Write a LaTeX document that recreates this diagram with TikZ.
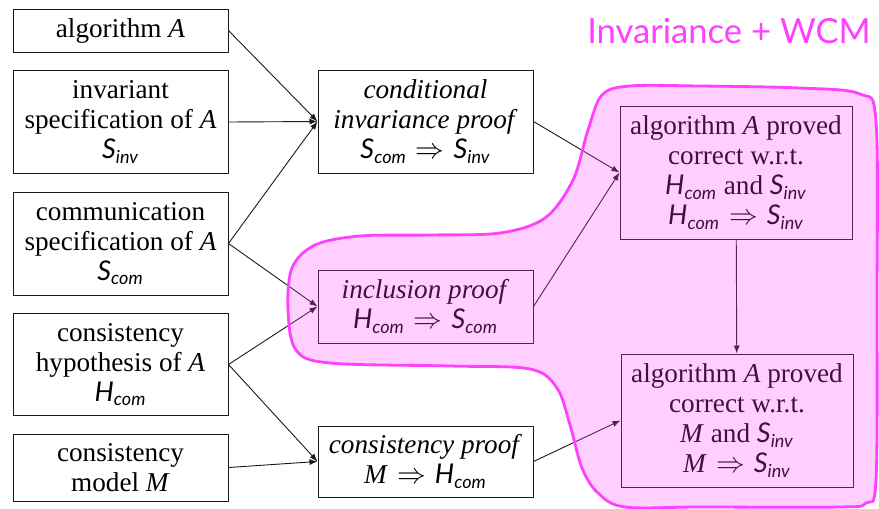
\documentclass[tikz,border=0pt]{standalone}
\usepackage{fontspec}
\setmainfont{Liberation Serif}
\newfontfamily\gillfont{Lato}
\usetikzlibrary{arrows.meta,positioning}
\definecolor{ink}{HTML}{1A1A1A}
\definecolor{blob}{HTML}{FF40FF}
\newcommand\specsym[2]{{\gillfont\itshape #1}$_{\hbox{\gillfont\itshape\fontsize{9}{9}\selectfont #2}}$}
\newcommand\impl{\hspace{4.5pt}$\Rightarrow$\hspace{4.5pt}}
\tikzset{
  basebox/.style={draw=ink,line width=0.5pt,fill=none,align=center,inner sep=2pt,font=\fontsize{13.6}{15}\selectfont},
  arrow/.style={-{Latex[length=4pt,width=3pt]},line width=0.45pt,draw=ink}
}

\begin{document}
\begin{tikzpicture}[x=0.5pt,y=-0.5pt,
    l/.style={basebox,minimum width=107.5pt,minimum height=51.5pt},
    m/.style={basebox,minimum width=107.5pt},
    r/.style={basebox,minimum width=116pt,minimum height=66.5pt}
  ]
    \useasboundingbox (0,0) rectangle (879,509);
    % inputs
    \node[l,minimum height=21.5pt] (alg) at (120.5,30.5) {algorithm \textit{A}};
    \node[l,below=8.75pt of alg] (inv) {invariant\\specification of \textit{A}\\\specsym{S}{inv}};
    \node[l,below=8.75pt of inv] (comm) {communication\\specification of \textit{A}\\\specsym{S}{com}};
    \node[l,minimum height=51pt,below=8.75pt of comm] (hyp) {consistency\\hypothesis of \textit{A}\\\specsym{H}{com}};
    \node[l,minimum height=33.5pt,below=8.75pt of hyp] (model) {consistency\\model \textit{M}};
    % proofs
    \node[m,minimum height=51.5pt] (cond) at (425.5,121.5) {\textit{conditional}\\\textit{invariance proof}\\\specsym{S}{com}\impl\specsym{S}{inv}};
    \node[m,minimum height=36.5pt] (incl) at (425.5,306.5) {\textit{inclusion proof}\\\specsym{H}{com}\impl\specsym{S}{com}};
    \node[m,minimum height=35.5pt] (cproof) at (425.5,461.5) {\textit{consistency proof}\\\textit{M}\impl\specsym{H}{com}};
    % results
    \node[r] (prvinv) at (736,172.5) {algorithm \textit{A} proved\\correct w.r.t.\\\specsym{H}{com} and \specsym{S}{inv}\\\specsym{H}{com}\impl\specsym{S}{inv}};
    \node[r] (prvmod) at (737,420.5) {algorithm \textit{A} proved\\correct w.r.t.\\\textit{M} and \specsym{S}{inv}\\\textit{M}\impl\specsym{S}{inv}};
    \foreach \a/\b in {alg/cond,inv/cond,comm/cond,comm/incl,hyp/incl,hyp/cproof,model/cproof,cond/prvinv,incl/prvinv,cproof/prvmod}
      \draw[arrow] (\a.east) -- (\b.west);
    \draw[arrow] (prvinv) -- (prvmod);
    % highlighted region
    \draw[blob,line width=1.4pt,fill=blob,fill opacity=0.25]
      plot[smooth cycle,tension=0.55] coordinates {(700,86) (800,88) (860,94) (876,122) (877,300) (876,480) (866,503) (840,507) (700,507) (625,507) (598,493) (582,468) (570,425) (557,388) (530,369) (450,366) (330,363) (296,350) (288,310) (292,268) (315,245) (360,236) (430,235) (500,233) (545,218) (573,180) (588,130) (602,95) (630,86)};
    \node[text=blob,anchor=base,inner sep=0pt,font=\gillfont\fontsize{17.3}{17.3}\selectfont] (title) at (729,43) {Invariance + WCM};
\end{tikzpicture}
\end{document}
